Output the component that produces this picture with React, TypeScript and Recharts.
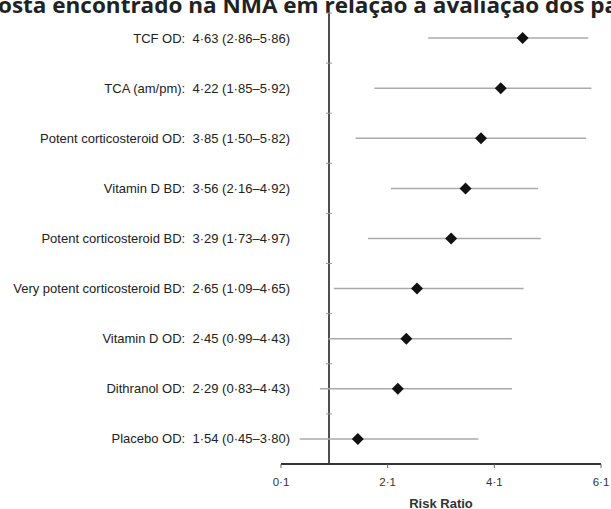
import React from 'react';
import {
  ScatterChart,
  Scatter,
  XAxis,
  YAxis,
  ErrorBar,
  ReferenceLine,
} from 'recharts';

const TITLE = 'osta encontrado na NMA em relação à avaliação dos pa';

const TREATMENTS = [
  'TCF OD',
  'TCA (am/pm)',
  'Potent corticosteroid OD',
  'Vitamin D BD',
  'Potent corticosteroid BD',
  'Very potent corticosteroid BD',
  'Vitamin D OD',
  'Dithranol OD',
  'Placebo OD',
];
const RISK_RATIO = [4.63, 4.22, 3.85, 3.56, 3.29, 2.65, 2.45, 2.29, 1.54];
const CI_LOW = [2.86, 1.85, 1.5, 2.16, 1.73, 1.09, 0.99, 0.83, 0.45];
const CI_HIGH = [5.86, 5.92, 5.82, 4.92, 4.97, 4.65, 4.43, 4.43, 3.8];
const X_TICKS = [0.1, 2.1, 4.1, 6.1];

// dot as decimal separator, like the paper
const fmt = (v: number, d = 2) => v.toFixed(d).replace('.', '·');

const rows = TREATMENTS.map((name, i) => ({
  row: i + 1,
  rr: RISK_RATIO[i],
  err: [RISK_RATIO[i] - CI_LOW[i], CI_HIGH[i] - RISK_RATIO[i]],
  label: `${name}:  ${fmt(RISK_RATIO[i])} (${fmt(CI_LOW[i])}–${fmt(CI_HIGH[i])})`,
}));

// little marks on the null line between rows
const dividers = TREATMENTS.map((_, i) => ({ rr: 1, row: i + 0.5 }));

const FONT = '"Liberation Sans", Arial, sans-serif';

const Diamond = (props: any) => {
  const { cx, cy } = props;
  const s = 6;
  return (
    <polygon
      points={`${cx},${cy - s} ${cx + s},${cy} ${cx},${cy + s} ${cx - s},${cy}`}
      fill="#111"
    />
  );
};

const Divider = (props: any) => {
  const { cx, cy } = props;
  return <line x1={cx - 3} x2={cx + 3} y1={cy} y2={cy} stroke="#999" strokeWidth={1} />;
};

const RowLabel = (props: any) => {
  const { x, y, payload } = props;
  const r = rows.find((d) => d.row === payload.value);
  return (
    <text
      x={x + 9}
      y={y}
      dy="0.35em"
      textAnchor="end"
      fontSize={13}
      fontFamily={FONT}
      fill="#222"
      style={{ whiteSpace: 'pre' }}
    >
      {r ? r.label : ''}
    </text>
  );
};

export default function App() {
  return (
    <div
      style={{
        position: 'absolute',
        left: 0,
        top: 0,
        width: 611,
        height: 509,
        background: '#fff',
        overflow: 'hidden',
      }}
    >
      <svg width={611} height={30} style={{ position: 'absolute', left: 0, top: 0 }}>
        <text
          x={-2}
          y={13}
          fontSize={22}
          fontWeight="bold"
          fontFamily='"Open Sans", sans-serif'
          fill="#222"
          textLength={620}
          lengthAdjust="spacingAndGlyphs"
        >
          {TITLE}
        </text>
      </svg>
      <div style={{ position: 'absolute', left: 0, top: 0 }}>
        <ScatterChart
          width={611}
          height={509}
          margin={{ top: 13, right: 10, bottom: 0, left: 0 }}
        >
          <XAxis
            type="number"
            dataKey="rr"
            domain={[0.1, 6.1]}
            ticks={X_TICKS}
            tickFormatter={(v: number) => fmt(v, 1)}
            height={45}
            axisLine={{ stroke: '#333', strokeWidth: 2 }}
            tickLine={{ stroke: '#666' }}
            tickSize={4}
            tickMargin={10}
            tick={{ fontSize: 11.5, fontFamily: FONT, fill: '#333' }}
            label={{
              value: 'Risk Ratio',
              position: 'insideBottom',
              offset: 1.5,
              style: { fontSize: 13, fontWeight: 'bold', fontFamily: FONT, fill: '#333' },
            }}
          />
          <YAxis
            type="number"
            dataKey="row"
            domain={[0.5, 9.5]}
            ticks={rows.map((d) => d.row)}
            reversed
            width={281}
            axisLine={false}
            tickLine={false}
            tickSize={0}
            tickMargin={0}
            tick={<RowLabel />}
          />
          <ReferenceLine x={1} stroke="#222" strokeWidth={1.6} />
          <Scatter data={dividers} shape={<Divider />} isAnimationActive={false} />
          <Scatter data={rows} shape={<Diamond />} isAnimationActive={false}>
            <ErrorBar dataKey="err" direction="x" width={0} stroke="#aaa" strokeWidth={1.5} />
          </Scatter>
        </ScatterChart>
      </div>
    </div>
  );
}
